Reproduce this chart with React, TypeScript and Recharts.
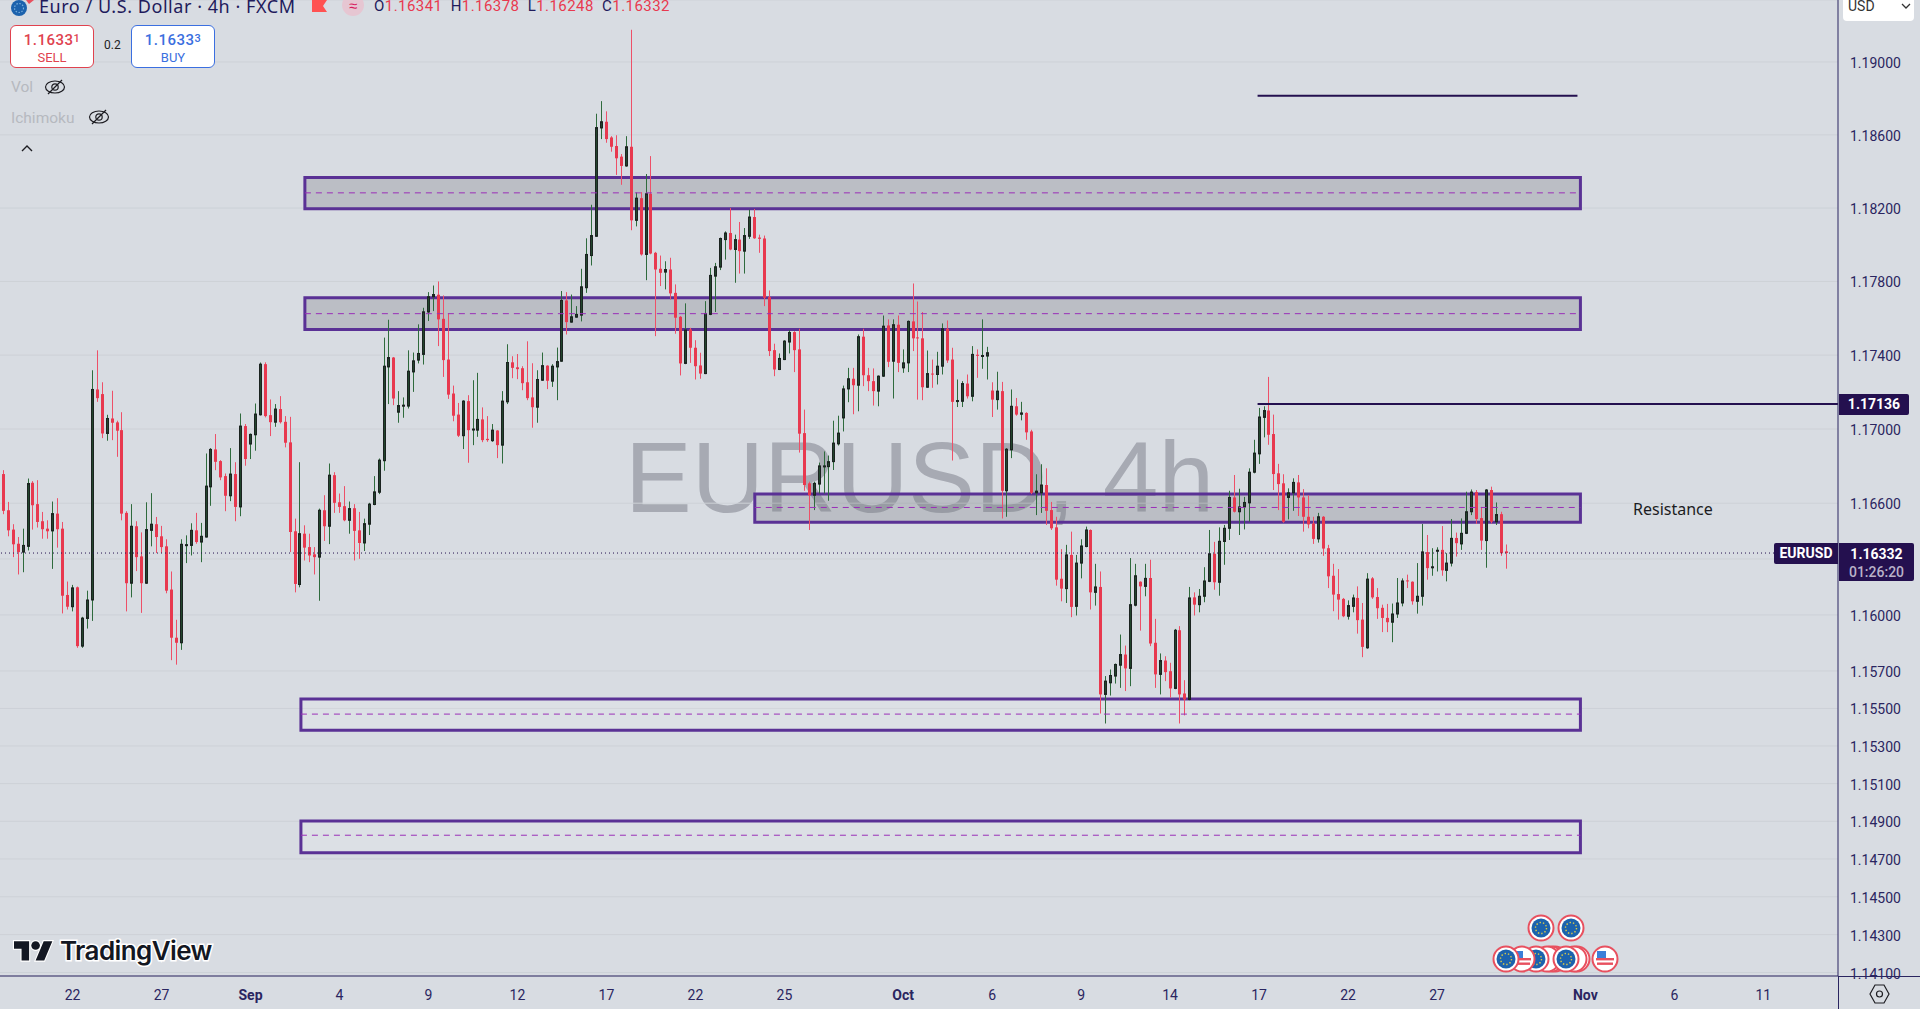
import React from 'react';
import { ComposedChart, Bar, XAxis, YAxis, CartesianGrid, ReferenceArea, ReferenceLine } from 'recharts';

// 4h EURUSD candles, oldest first
const opens = [
  1.16757,1.16562,1.16458,1.16382,1.16337,1.16368,1.16710,1.16595,1.16503,1.16463,
  1.16451,1.16544,1.16463,1.16107,1.16044,1.16148,1.15833,1.15981,1.16080,1.17214,
  1.17189,1.16976,1.17057,1.17036,1.16994,1.16548,1.16170,1.16476,1.16314,1.16170,
  1.16454,1.16487,1.16422,1.16368,1.16136,1.15878,1.15851,1.16373,1.16373,1.16454,
  1.16391,1.16418,1.16688,1.16890,1.16827,1.16746,1.16640,1.16757,1.16580,1.17016,
  1.16919,1.16969,1.17077,1.17351,1.17075,1.17037,1.17108,1.17039,1.16928,1.16449,
  1.16163,1.16436,1.16364,1.16325,1.16310,1.16562,1.16476,1.16751,1.16605,1.16584,
  1.16508,1.16573,1.16454,1.16386,1.16487,1.16593,1.16659,1.16829,1.17336,1.17387,
  1.17091,1.17126,1.17124,1.17309,1.17373,1.17404,1.17634,1.17717,1.17728,1.17597,
  1.17376,1.17192,1.17078,1.16964,1.17151,1.16996,1.16994,1.17052,1.16947,1.16937,
  1.16992,1.16913,1.17147,1.17361,1.17334,1.17329,1.17253,1.17171,1.17118,1.17264,
  1.17343,1.17259,1.17336,1.17367,1.17697,1.17579,1.17606,1.17617,1.17766,1.17941,
  1.18046,1.18638,1.18672,1.18586,1.18539,1.18481,1.18430,1.18535,1.18133,1.18254,
  1.17947,1.18278,1.17956,1.17869,1.17851,1.17865,1.17738,1.17608,1.17355,1.17539,
  1.17440,1.17344,1.17300,1.17621,1.17829,1.17878,1.18028,1.18064,1.17974,1.18028,
  1.17965,1.18046,1.18151,1.18039,1.18034,1.17715,1.17427,1.17322,1.17376,1.17471,
  1.17525,1.17431,1.16978,1.16707,1.16643,1.16703,1.16797,1.16797,1.16824,1.16920,
  1.17060,1.17217,1.17272,1.17237,1.17500,1.17291,1.17259,1.17205,1.17286,1.17561,
  1.17367,1.17565,1.17331,1.17358,1.17583,1.17496,1.17491,1.17226,1.17300,1.17295,
  1.17340,1.17543,1.17376,1.17150,1.17150,1.17246,1.17177,1.17402,1.17395,1.17395,
  1.17208,1.17159,1.17205,1.16667,1.16888,1.17123,1.17080,1.17087,1.16987,1.16656,
  1.16656,1.16698,1.16563,1.16470,1.16194,1.16141,1.16322,1.16046,1.16278,1.16367,
  1.16456,1.16121,1.16150,1.15575,1.15637,1.15673,1.15731,1.15788,1.15714,1.16052,
  1.16178,1.16153,1.16198,1.15851,1.15682,1.15756,1.15699,1.15607,1.15918,1.15580,
  1.15548,1.16094,1.16055,1.16100,1.16180,1.16328,1.16175,1.16394,1.16465,1.16631,
  1.16554,1.16580,1.16602,1.16767,1.16866,1.17063,1.17100,1.16973,1.16761,1.16707,
  1.16631,1.16656,1.16712,1.16631,1.16527,1.16491,1.16408,1.16527,1.16358,1.16210,
  1.16112,1.16086,1.15993,1.16046,1.16091,1.15975,1.15824,1.16196,1.16096,1.16038,
  1.15984,1.15961,1.16005,1.16064,1.16185,1.16178,1.16073,1.16100,1.16337,1.16253,
  1.16344,1.16349,1.16239,1.16278,1.16413,1.16381,1.16438,1.16554,1.16660,1.16520,
  1.16399,1.16671,1.16500,1.16541,1.16341,
];
const closes = [
  1.16559,1.16454,1.16379,1.16337,1.16373,1.16706,1.16589,1.16499,1.16460,1.16449,
  1.16544,1.16460,1.16103,1.16044,1.16145,1.15833,1.15983,1.16080,1.17214,1.17167,
  1.16976,1.17057,1.17034,1.16991,1.16544,1.16170,1.16476,1.16310,1.16170,1.16458,
  1.16487,1.16418,1.16364,1.16130,1.15878,1.15851,1.16379,1.16377,1.16454,1.16391,
  1.16422,1.16692,1.16890,1.16823,1.16739,1.16640,1.16757,1.16580,1.17016,1.16838,
  1.16971,1.17081,1.17351,1.17070,1.17037,1.17108,1.17037,1.16926,1.16445,1.16166,
  1.16436,1.16361,1.16319,1.16310,1.16562,1.16476,1.16751,1.16602,1.16580,1.16508,
  1.16571,1.16451,1.16386,1.16490,1.16595,1.16661,1.16832,1.17340,1.17387,1.17165,
  1.17127,1.17129,1.17313,1.17369,1.17409,1.17635,1.17717,1.17729,1.17594,1.17373,
  1.17186,1.17072,1.16964,1.17151,1.16994,1.17000,1.17052,1.16940,1.16940,1.16994,
  1.16913,1.17151,1.17360,1.17331,1.17324,1.17248,1.17167,1.17118,1.17268,1.17343,
  1.17261,1.17340,1.17365,1.17697,1.17579,1.17608,1.17621,1.17771,1.17947,1.18050,
  1.18640,1.18672,1.18577,1.18535,1.18472,1.18430,1.18535,1.18133,1.18254,1.17947,
  1.18278,1.17952,1.17865,1.17847,1.17865,1.17735,1.17603,1.17355,1.17536,1.17440,
  1.17340,1.17300,1.17626,1.17833,1.17880,1.18034,1.18064,1.17974,1.18028,1.17965,
  1.18050,1.18151,1.18035,1.18032,1.17711,1.17422,1.17322,1.17382,1.17476,1.17523,
  1.17427,1.16975,1.16698,1.16643,1.16707,1.16801,1.16801,1.16824,1.16924,1.16978,
  1.17217,1.17272,1.17237,1.17500,1.17291,1.17259,1.17205,1.17286,1.17557,1.17364,
  1.17565,1.17358,1.17358,1.17583,1.17491,1.17492,1.17226,1.17300,1.17297,1.17340,
  1.17543,1.17371,1.17147,1.17154,1.17246,1.17177,1.17404,1.17396,1.17398,1.17413,
  1.17159,1.17205,1.16667,1.16891,1.17123,1.17078,1.17087,1.16982,1.16656,1.16665,
  1.16698,1.16559,1.16465,1.16189,1.16141,1.16322,1.16043,1.16278,1.16370,1.16456,
  1.16121,1.16150,1.15575,1.15646,1.15676,1.15735,1.15788,1.15714,1.16055,1.16210,
  1.16153,1.16196,1.15847,1.15682,1.15756,1.15694,1.15607,1.15918,1.15575,1.15548,
  1.16091,1.16055,1.16100,1.16182,1.16328,1.16175,1.16395,1.16465,1.16631,1.16554,
  1.16580,1.16604,1.16767,1.16870,1.17065,1.17100,1.16969,1.16757,1.16703,1.16500,
  1.16656,1.16712,1.16631,1.16527,1.16486,1.16408,1.16527,1.16356,1.16207,1.16109,
  1.16082,1.15993,1.16050,1.16091,1.15972,1.15829,1.16192,1.16094,1.16036,1.15984,
  1.15961,1.16005,1.16064,1.16182,1.16180,1.16073,1.16100,1.16338,1.16251,1.16258,
  1.16347,1.16239,1.16278,1.16411,1.16385,1.16438,1.16554,1.16660,1.16515,1.16399,
  1.16671,1.16500,1.16539,1.16331,1.16332,
];
const highs = [
  1.16778,1.16607,1.16487,1.16418,1.16463,1.16733,1.16719,1.16724,1.16553,1.16508,
  1.16609,1.16627,1.16499,1.16179,1.16161,1.16152,1.15990,1.16130,1.17318,1.17426,
  1.17253,1.17077,1.17207,1.17045,1.17091,1.16557,1.16595,1.16503,1.16443,1.16605,
  1.16654,1.16526,1.16478,1.16406,1.16233,1.15974,1.16406,1.16427,1.16492,1.16548,
  1.16494,1.16868,1.16897,1.16973,1.16832,1.16760,1.16897,1.16821,1.17084,1.17027,
  1.16976,1.17138,1.17360,1.17361,1.17160,1.17135,1.17178,1.17070,1.17066,1.16517,
  1.16821,1.16481,1.16436,1.16364,1.16571,1.16643,1.16814,1.16767,1.16652,1.16692,
  1.16609,1.16595,1.16553,1.16517,1.16602,1.16746,1.16841,1.17495,1.17592,1.17390,
  1.17205,1.17171,1.17426,1.17414,1.17567,1.17657,1.17742,1.17778,1.17800,1.17724,
  1.17626,1.17235,1.17141,1.17156,1.17183,1.17264,1.17304,1.17117,1.17070,1.17027,
  1.16994,1.17205,1.17459,1.17394,1.17406,1.17340,1.17475,1.17356,1.17318,1.17414,
  1.17345,1.17351,1.17441,1.17748,1.17742,1.17729,1.17666,1.17869,1.18035,1.18218,
  1.18716,1.18785,1.18729,1.18593,1.18598,1.18495,1.18593,1.19177,1.18285,1.18287,
  1.18386,1.18484,1.17961,1.17941,1.17910,1.17929,1.17784,1.17612,1.17681,1.17548,
  1.17481,1.17413,1.17693,1.17874,1.17901,1.18039,1.18073,1.18200,1.18055,1.18124,
  1.18091,1.18191,1.18195,1.18055,1.18050,1.17751,1.17462,1.17409,1.17481,1.17536,
  1.17530,1.17543,1.17105,1.16716,1.16716,1.16819,1.16879,1.16857,1.17045,1.17072,
  1.17235,1.17331,1.17331,1.17512,1.17543,1.17331,1.17328,1.17290,1.17615,1.17594,
  1.17594,1.17615,1.17431,1.17588,1.17789,1.17691,1.17634,1.17425,1.17376,1.17418,
  1.17572,1.17588,1.17440,1.17268,1.17259,1.17295,1.17449,1.17431,1.17594,1.17445,
  1.17253,1.17310,1.17255,1.16897,1.17214,1.17168,1.17147,1.17091,1.16996,1.16756,
  1.16810,1.16788,1.16607,1.16527,1.16353,1.16376,1.16447,1.16322,1.16406,1.16474,
  1.16459,1.16274,1.16233,1.15673,1.15708,1.15740,1.15895,1.15836,1.16305,1.16274,
  1.16180,1.16274,1.16296,1.15979,1.15794,1.15779,1.15744,1.15925,1.15940,1.15651,
  1.16150,1.16121,1.16139,1.16256,1.16456,1.16392,1.16470,1.16483,1.16667,1.16752,
  1.16678,1.16634,1.16788,1.16942,1.17114,1.17123,1.17282,1.17078,1.16812,1.16756,
  1.16680,1.16734,1.16752,1.16676,1.16643,1.16527,1.16548,1.16531,1.16376,1.16274,
  1.16246,1.16091,1.16078,1.16109,1.16153,1.16064,1.16224,1.16203,1.16144,1.16055,
  1.16059,1.16061,1.16198,1.16196,1.16216,1.16180,1.16278,1.16488,1.16429,1.16358,
  1.16363,1.16477,1.16331,1.16515,1.16442,1.16518,1.16662,1.16674,1.16671,1.16580,
  1.16676,1.16689,1.16604,1.16554,1.16378,
];
const lows = [
  1.16541,1.16422,1.16310,1.16217,1.16229,1.16346,1.16458,1.16469,1.16409,1.16409,
  1.16247,1.16361,1.16008,1.16029,1.16019,1.15824,1.15824,1.15927,1.15968,1.17147,
  1.16951,1.16937,1.16940,1.16850,1.16508,1.16019,1.16094,1.16235,1.16011,1.16166,
  1.16368,1.16332,1.16332,1.16116,1.15758,1.15734,1.15813,1.16278,1.16319,1.16382,
  1.16283,1.16415,1.16586,1.16778,1.16724,1.16557,1.16611,1.16503,1.16530,1.16802,
  1.16838,1.16883,1.17073,1.17063,1.16962,1.17012,1.17030,1.16901,1.16337,1.16121,
  1.16148,1.16292,1.16283,1.16217,1.16076,1.16397,1.16380,1.16548,1.16548,1.16503,
  1.16436,1.16292,1.16301,1.16343,1.16429,1.16589,1.16649,1.16775,1.17135,1.17129,
  1.17034,1.17061,1.17111,1.17201,1.17355,1.17349,1.17585,1.17639,1.17449,1.17282,
  1.17163,1.17042,1.16957,1.16892,1.16818,1.16913,1.16958,1.16929,1.16931,1.16931,
  1.16843,1.16814,1.17135,1.17275,1.17270,1.17210,1.17156,1.17007,1.17034,1.17261,
  1.17216,1.17228,1.17156,1.17364,1.17512,1.17576,1.17603,1.17583,1.17738,1.17887,
  1.18043,1.18577,1.18557,1.18508,1.18381,1.18327,1.18426,1.18079,1.18100,1.17941,
  1.17807,1.17948,1.17503,1.17775,1.17757,1.17702,1.17516,1.17290,1.17351,1.17358,
  1.17268,1.17272,1.17297,1.17617,1.17634,1.17862,1.17919,1.17970,1.17793,1.17843,
  1.17843,1.18032,1.18032,1.17956,1.17666,1.17395,1.17286,1.17319,1.17373,1.17409,
  1.17308,1.16873,1.16667,1.16456,1.16563,1.16652,1.16652,1.16613,1.16779,1.16911,
  1.16987,1.17145,1.17080,1.17096,1.17232,1.17205,1.17127,1.17123,1.17282,1.17335,
  1.17165,1.17308,1.17304,1.17308,1.17422,1.17159,1.17156,1.17223,1.17223,1.17241,
  1.17295,1.17358,1.16830,1.17119,1.17119,1.17165,1.17150,1.17277,1.17326,1.17268,
  1.17065,1.17105,1.16518,1.16527,1.16843,1.17072,1.17047,1.16942,1.16649,1.16536,
  1.16548,1.16483,1.16456,1.16157,1.16073,1.16064,1.15988,1.15997,1.16196,1.16363,
  1.16029,1.16050,1.15473,1.15420,1.15569,1.15633,1.15610,1.15593,1.15619,1.16046,
  1.15916,1.16100,1.15833,1.15610,1.15575,1.15646,1.15557,1.15603,1.15420,1.15463,
  1.15544,1.15997,1.16014,1.16068,1.16176,1.16135,1.16103,1.16269,1.16402,1.16550,
  1.16429,1.16459,1.16500,1.16761,1.16812,1.16955,1.16915,1.16671,1.16563,1.16495,
  1.16513,1.16559,1.16531,1.16447,1.16465,1.16381,1.16388,1.16317,1.16144,1.16020,
  1.15975,1.15988,1.15975,1.16014,1.15900,1.15774,1.15819,1.16086,1.15979,1.15908,
  1.15908,1.15854,1.15984,1.16046,1.16144,1.16055,1.16007,1.16050,1.16189,1.16210,
  1.16233,1.16210,1.16180,1.16260,1.16313,1.16349,1.16434,1.16536,1.16488,1.16349,
  1.16253,1.16491,1.16483,1.16317,1.16248,
];

const priceTicks = [1.19, 1.186, 1.182, 1.178, 1.174, 1.17, 1.166, 1.163, 1.16, 1.157, 1.155, 1.153, 1.151, 1.149, 1.147, 1.145, 1.143, 1.141];
const hiddenPriceLabels = [1.163];
const timeTicks = [14, 32, 50, 68, 86, 104, 122, 140, 158, 182, 200, 218, 236, 254, 272, 290, 320, 338, 356];
const timeLabels = ['22', '27', 'Sep', '4', '9', '12', '17', '22', '25', 'Oct', '6', '9', '14', '17', '22', '27', 'Nov', '6', '11'];
const monthLabels = ['Sep', 'Oct', 'Nov'];

// supply / demand zones: top, bottom, middle price, first and last bar
const zoneTops = [1.18367, 1.17712, 1.1665, 1.1555, 1.14902];
const zoneBottoms = [1.18196, 1.17539, 1.16497, 1.15384, 1.14733];
const zoneMids = [1.18283, 1.17625, 1.16577, 1.1547, 1.14826];
const zoneStarts = [61, 61, 152, 60.2, 60.2];
const zoneEnds = [319, 319, 319, 319, 319];
const zoneFills = ['rgba(120,123,128,0.3)', 'rgba(120,123,128,0.3)', 'rgba(120,123,128,0.3)', 'rgba(255,255,255,0.12)', 'rgba(255,255,255,0.12)'];

const lastPrice = 1.16332;
const swingHigh = 1.17136;
const upperLine = 1.18815;

const candles = opens.map((open, i) => ({
  i,
  open,
  close: closes[i],
  wick: [lows[i], highs[i]],
  body: [Math.min(open, closes[i]), Math.max(open, closes[i])],
}));

const INK = '#2a2560';
const TAG = '#24104f';
const RED = '#e8394f';
const axisFont = 'Roboto, sans-serif';

const WickShape = (props: any) => {
  const { x, y, width, height, payload } = props;
  const cx = Math.floor(x + width / 2);
  return <rect x={cx} y={y} width={1} height={Math.max(height, 1)} fill={payload.close >= payload.open ? '#2f6b3d' : '#ee5068'} />;
};

const BodyShape = (props: any) => {
  const { x, y, width, height, payload } = props;
  const cx = Math.floor(x + width / 2);
  const h = Math.max(height, 1);
  if (payload.close >= payload.open) {
    return <rect x={cx - 0.5} y={y} width={2} height={h} fill="#22452d" stroke="#1b2320" strokeWidth={1} />;
  }
  return <rect x={cx - 1} y={y} width={3} height={h} fill={RED} />;
};

const TimeTick = (props: any) => {
  const { x, y, payload } = props;
  const label = timeLabels[timeTicks.indexOf(payload.value)];
  const isMonth = monthLabels.includes(label);
  return (
    <text x={x} y={y + 16} textAnchor="middle" fontFamily={axisFont} fontSize={14} fontWeight={isMonth ? 700 : 400} fill={INK}>
      {label}
    </text>
  );
};

const EyeOff = ({ left, top }: { left: number; top: number }) => (
  <svg width="22" height="18" viewBox="0 0 22 18" style={{ position: 'absolute', left, top }}>
    <ellipse cx="11" cy="9" rx="9.5" ry="6" fill="none" stroke="#1d1d22" strokeWidth="1.2" />
    <circle cx="11" cy="9" r="3.2" fill="none" stroke="#1d1d22" strokeWidth="1.2" />
    <path d="M4 16 L18 2" stroke="#1d1d22" strokeWidth="1.2" />
  </svg>
);

const EuBadge = ({ cx, cy }: { cx: number; cy: number }) => (
  <g>
    <circle cx={cx} cy={cy} r={12.5} fill="#fff" stroke="#e8505f" strokeWidth={2} />
    <circle cx={cx} cy={cy} r={9.5} fill="#1c62ad" />
    <circle cx={cx} cy={cy} r={5.5} fill="none" stroke="#d8c94a" strokeWidth={1.4} strokeDasharray="1.4 2" />
  </g>
);

const UsBadge = ({ cx, cy }: { cx: number; cy: number }) => (
  <g>
    <circle cx={cx} cy={cy} r={12.5} fill="#fff" stroke="#e8505f" strokeWidth={2} />
    <rect x={cx - 9} y={cy - 1} width={18} height={2.4} fill="#e8505f" />
    <rect x={cx - 8} y={cy + 3.5} width={16} height={2.4} fill="#e8505f" />
    <rect x={cx - 8} y={cy - 8} width={9} height={7} fill="#3b7fd9" />
  </g>
);

const Tag = ({ left, top, width, height, children }: any) => (
  <div style={{ position: 'absolute', left, top, width, height, background: TAG, color: '#fff', borderRadius: '0 2px 2px 0', fontFamily: axisFont, fontWeight: 700, fontSize: 14, textAlign: 'center', lineHeight: '20px' }}>
    {children}
  </div>
);

const Quote = ({ price, last }: { price: string; last: string }) => (
  <div style={{ fontSize: 15, lineHeight: '20px', marginTop: 3, letterSpacing: 0.5, fontWeight: 500 }}>
    {price}
    <span style={{ fontSize: 11, verticalAlign: 3 }}>{last}</span>
  </div>
);

const App: React.FC = () => {
  return (
    <div style={{ position: 'absolute', left: 0, top: 0, width: 1920, height: 1009, overflow: 'hidden', background: '#d8dce2' }}>
      {/* Watermark */}
      <div style={{ position: 'absolute', left: 625, top: 421, fontFamily: '"Liberation Sans", sans-serif', fontSize: 100, lineHeight: '112px', color: 'rgba(112,115,128,0.48)', whiteSpace: 'nowrap' }}>
        EURUSD, 4h
      </div>

      <div style={{ position: 'absolute', left: 0, top: 0 }}>
        <ComposedChart width={1920} height={1009} data={candles} margin={{ top: 0, right: 0, bottom: 0, left: 0 }}>
          <CartesianGrid vertical={false} stroke="#cdd1d7" />
          <XAxis
            xAxisId="wick"
            dataKey="i"
            type="number"
            domain={[-0.667, 371.1]}
            allowDataOverflow
            ticks={timeTicks}
            interval={0}
            height={33}
            tick={<TimeTick />}
            tickLine={false}
            axisLine={{ stroke: INK }}
          />
          <XAxis xAxisId="body" orientation="top" dataKey="i" type="number" domain={[-0.667, 371.1]} allowDataOverflow hide />
          <YAxis
            orientation="right"
            width={82}
            scale="log"
            domain={[1.14082, 1.19341]}
            allowDataOverflow
            ticks={priceTicks}
            interval={0}
            tickFormatter={(v: number) => (hiddenPriceLabels.includes(v) ? '' : v.toFixed(5))}
            tick={{ fill: INK, fontSize: 14, fontFamily: axisFont, dx: 4, dy: 1 }}
            tickLine={false}
            axisLine={{ stroke: INK }}
          />
          <Bar xAxisId="wick" dataKey="wick" barSize={1} shape={<WickShape />} isAnimationActive={false} />
          <Bar xAxisId="body" dataKey="body" barSize={3} shape={<BodyShape />} isAnimationActive={false} />

          <ReferenceLine xAxisId="wick" y={lastPrice} stroke={TAG} strokeWidth={1} strokeDasharray="1 3" />
          {zoneTops.map((top, k) => (
            <ReferenceArea
              key={`zone-${k}`}
              xAxisId="wick"
              x1={zoneStarts[k]}
              x2={zoneEnds[k]}
              y1={zoneBottoms[k]}
              y2={top}
              fill={zoneFills[k]}
              fillOpacity={1}
              stroke="#5a3195"
              strokeWidth={3}
            />
          ))}
          {zoneMids.map((mid, k) => (
            <ReferenceLine
              key={`mid-${k}`}
              xAxisId="wick"
              segment={[{ x: zoneStarts[k], y: mid }, { x: zoneEnds[k], y: mid }]}
              stroke="#9a2fb8"
              strokeWidth={1}
              strokeDasharray="6 5"
            />
          ))}
          <ReferenceLine xAxisId="wick" segment={[{ x: 253.7, y: upperLine }, { x: 318.4, y: upperLine }]} stroke={TAG} strokeWidth={2} />
          <ReferenceLine xAxisId="wick" segment={[{ x: 253.7, y: swingHigh }, { x: 371.1, y: swingHigh }]} stroke={TAG} strokeWidth={2} />
        </ComposedChart>
      </div>

      {/* axis ends outside the plot */}
      <div style={{ position: 'absolute', left: 1838, top: 976, width: 82, height: 1, background: INK }} />
      <div style={{ position: 'absolute', left: 1838, top: 976, width: 1, height: 33, background: INK }} />

      {/* Symbol header */}
      <div style={{ position: 'absolute', left: 39, top: -6, fontFamily: '"Noto Sans", sans-serif', fontSize: 18, lineHeight: '24px', color: '#1f1b5c', whiteSpace: 'nowrap', letterSpacing: 0.55 }}>
        Euro / U.S. Dollar · 4h · FXCM
      </div>
      <svg width="50" height="20" style={{ position: 'absolute', left: 0, top: 0 }}>
        <circle cx="19" cy="8" r="8" fill="#1c62ad" />
        <circle cx="19" cy="8" r="4.5" fill="none" stroke="#7fb2dd" strokeWidth="1.2" strokeDasharray="1.4 1.6" />
        <path d="M26 0 H34 L29 4 Z" fill="#e8505f" />
      </svg>
      <svg width="20" height="14" style={{ position: 'absolute', left: 312, top: 0 }}>
        <path d="M0 0 H15 L11 6 L15 12 H0 Z" fill="#ff5252" />
      </svg>
      <div style={{ position: 'absolute', left: 342, top: -6, width: 22, height: 22, borderRadius: 11, background: '#e6c6d2', color: '#d81b60', fontSize: 15, lineHeight: '22px', textAlign: 'center', fontFamily: '"Noto Sans", sans-serif' }}>≈</div>
      <div style={{ position: 'absolute', left: 374, top: -4, fontFamily: axisFont, fontSize: 15, lineHeight: '20px', whiteSpace: 'nowrap', letterSpacing: 0.45, color: RED }}>
        <span style={{ color: '#1f1b5c' }}>O</span>1.16341 <span style={{ color: '#1f1b5c', marginLeft: 4 }}>H</span>1.16378 <span style={{ color: '#1f1b5c', marginLeft: 4 }}>L</span>1.16248 <span style={{ color: '#1f1b5c', marginLeft: 4 }}>C</span>1.16332
      </div>

      {/* Trade buttons */}
      <div style={{ position: 'absolute', left: 10, top: 25, width: 84, height: 43, boxSizing: 'border-box', background: '#fff', border: '1px solid #e0424f', borderRadius: 6, color: '#e0424f', textAlign: 'center', fontFamily: axisFont }}>
        <Quote price="1.1633" last="1" />
        <div style={{ fontSize: 13, lineHeight: '15px' }}>SELL</div>
      </div>
      <div style={{ position: 'absolute', left: 104, top: 38, fontFamily: axisFont, fontSize: 12, lineHeight: '15px', color: '#222' }}>0.2</div>
      <div style={{ position: 'absolute', left: 131, top: 25, width: 84, height: 43, boxSizing: 'border-box', background: '#fff', border: '1px solid #3b6fe0', borderRadius: 6, color: '#3b6fe0', textAlign: 'center', fontFamily: axisFont }}>
        <Quote price="1.1633" last="3" />
        <div style={{ fontSize: 13, lineHeight: '15px' }}>BUY</div>
      </div>

      {/* Indicators */}
      <div style={{ position: 'absolute', left: 11, top: 78, fontFamily: axisFont, fontSize: 15.5, lineHeight: '18px', color: '#b6b9bf' }}>Vol</div>
      <EyeOff left={44} top={78} />
      <div style={{ position: 'absolute', left: 11, top: 109, fontFamily: axisFont, fontSize: 15.5, lineHeight: '18px', color: '#b6b9bf' }}>Ichimoku</div>
      <EyeOff left={88} top={108} />
      <svg width="14" height="10" style={{ position: 'absolute', left: 20, top: 144 }}>
        <path d="M2 7 L7 2 L12 7" fill="none" stroke="#1d1d22" strokeWidth="1.4" />
      </svg>

      {/* Drawing label */}
      <div style={{ position: 'absolute', left: 1633, top: 499, fontFamily: '"Noto Sans", sans-serif', fontSize: 16, lineHeight: '21px', color: '#1c1c22' }}>Resistance</div>

      {/* Scale tags */}
      <div style={{ position: 'absolute', left: 1843, top: 0, width: 71, height: 21, background: '#fff', borderRadius: '0 0 4px 4px', fontFamily: axisFont, fontSize: 14, lineHeight: '13px', color: '#333', paddingLeft: 5, boxSizing: 'border-box' }}>USD</div>
      <svg width="10" height="8" style={{ position: 'absolute', left: 1901, top: 2 }}>
        <path d="M1 2 L5 6 L9 2" fill="none" stroke="#333" strokeWidth="1.3" />
      </svg>
      <Tag left={1839} top={394} width={70} height={21}>1.17136</Tag>
      <div style={{ position: 'absolute', left: 1774, top: 543, width: 64, height: 21, background: TAG, color: '#fff', borderRadius: '2px 0 0 2px', fontFamily: axisFont, fontWeight: 700, fontSize: 14, textAlign: 'center', lineHeight: '21px' }}>EURUSD</div>
      <Tag left={1839} top={543} width={75} height={38}>
        <div style={{ lineHeight: '20px', marginTop: 1 }}>1.16332</div>
        <div style={{ lineHeight: '17px', color: '#b9b2c9', fontWeight: 500 }}>01:26:20</div>
      </Tag>

      {/* Economic calendar events */}
      <svg width="1920" height="1009" style={{ position: 'absolute', left: 0, top: 0, pointerEvents: 'none' }}>
        <EuBadge cx={1541} cy={928} />
        <EuBadge cx={1571} cy={928} />
        <circle cx={1555} cy={959} r={12.5} fill="#fff" stroke="#e8505f" strokeWidth={2} />
        <circle cx={1551} cy={959} r={12.5} fill="#fff" stroke="#e8505f" strokeWidth={2} />
        <circle cx={1547} cy={959} r={12.5} fill="#fff" stroke="#e8505f" strokeWidth={2} />
        <EuBadge cx={1536} cy={959} />
        <UsBadge cx={1522} cy={959} />
        <EuBadge cx={1506} cy={959} />
        <circle cx={1577} cy={959} r={12.5} fill="#fff" stroke="#e8505f" strokeWidth={2} />
        <circle cx={1574} cy={959} r={12.5} fill="#fff" stroke="#e8505f" strokeWidth={2} />
        <EuBadge cx={1566} cy={959} />
        <UsBadge cx={1605} cy={959} />

        {/* TradingView logo */}
        <g transform="translate(14,939) scale(1.08)" fill="#131722" stroke="#fff" strokeWidth={2} paintOrder="stroke">
          <path d="M14 20H7V9H0V2h14v18zM28 20h-8l7.5-18h8L28 20z" />
          <circle cx="20" cy="6" r="4" />
        </g>
        <text x={60} y={960} fontFamily="Inter, sans-serif" fontWeight={600} fontSize={26} letterSpacing={-0.6} fill="#131722" stroke="#fff" strokeWidth={3} paintOrder="stroke">TradingView</text>

        {/* Settings */}
        <g fill="none" stroke="#1d1d22" strokeWidth={1.2}>
          <path d="M1870 994 L1875 985 H1884 L1889 994 L1884 1003 H1875 Z" />
          <circle cx={1879.5} cy={994} r={3} />
        </g>
      </svg>
    </div>
  );
};

export default App;
